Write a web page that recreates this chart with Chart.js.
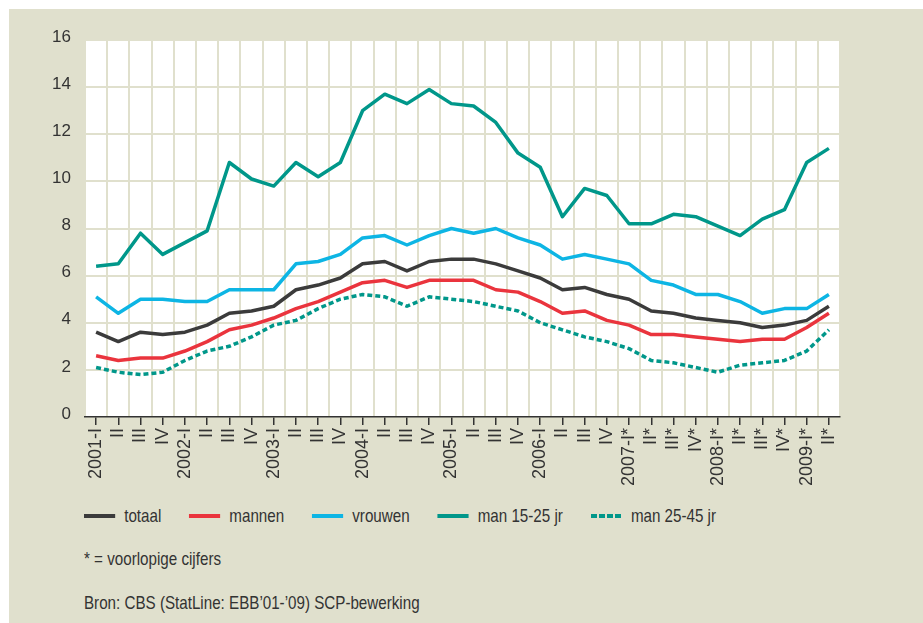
<!DOCTYPE html>
<html lang="nl">
<head>
<meta charset="utf-8">
<title>Werkloosheid per kwartaal, 2001-2009</title>
<script src="https://cdn.jsdelivr.net/npm/chart.js@4.4.1/dist/chart.umd.min.js"></script>
<style>
  html, body { margin: 0; padding: 0; background: #fff; }
  body {
    width: 923px; height: 623px; overflow: hidden; position: relative;
    font-family: "Liberation Sans", Arial, sans-serif;
    color: #333;
  }
  .panel { position: absolute; left: 9px; top: 9px; right: 0; bottom: 0; background: #e0e0cd; }
  .chart-wrap { position: absolute; left: 0; top: 0; width: 923px; height: 500px; }
  /* narrow type: regular face squeezed horizontally */
  .narrow { transform: scaleX(0.82); transform-origin: 0 50%; }
  .legend { position: absolute; left: 84px; top: 505px; display: flex; gap: 34px; font-size: 18.5px; line-height: 22px; }
  .legend-item { display: flex; align-items: center; }
  .legend-swatch { width: 38px; height: 4px; margin-right: 11px; }
  .note { position: absolute; left: 84px; font-size: 18.5px; line-height: 22px; white-space: nowrap; }
</style>
</head>
<body>
<div class="panel"></div>
<div class="chart-wrap"><canvas id="chart" width="923" height="500"></canvas></div>
<div class="legend narrow" id="legend"></div>
<div class="note narrow" style="top:548px">* = voorlopige cijfers</div>
<div class="note narrow" style="top:592px">Bron: CBS (StatLine: EBB’01-’09) SCP-bewerking</div>

<script>
/* ---- DATA ---- */
const quarters = [
  '2001-I', 'II', 'III', 'IV',
  '2002-I', 'II', 'III', 'IV',
  '2003-I', 'II', 'III', 'IV',
  '2004-I', 'II', 'III', 'IV',
  '2005-I', 'II', 'III', 'IV',
  '2006-I', 'II', 'III', 'IV',
  '2007-I*', 'II*', 'III*', 'IV*',
  '2008-I*', 'II*', 'III*', 'IV*',
  '2009-I*', 'II*'
];

const totaal  = [3.6, 3.2, 3.6, 3.5, 3.6, 3.9, 4.4, 4.5, 4.7, 5.4, 5.6, 5.9, 6.5, 6.6, 6.2, 6.6, 6.7,
                 6.7, 6.5, 6.2, 5.9, 5.4, 5.5, 5.2, 5.0, 4.5, 4.4, 4.2, 4.1, 4.0, 3.8, 3.9, 4.1, 4.7];
const mannen  = [2.6, 2.4, 2.5, 2.5, 2.8, 3.2, 3.7, 3.9, 4.2, 4.6, 4.9, 5.3, 5.7, 5.8, 5.5, 5.8, 5.8,
                 5.8, 5.4, 5.3, 4.9, 4.4, 4.5, 4.1, 3.9, 3.5, 3.5, 3.4, 3.3, 3.2, 3.3, 3.3, 3.8, 4.4];
const vrouwen = [5.1, 4.4, 5.0, 5.0, 4.9, 4.9, 5.4, 5.4, 5.4, 6.5, 6.6, 6.9, 7.6, 7.7, 7.3, 7.7, 8.0,
                 7.8, 8.0, 7.6, 7.3, 6.7, 6.9, 6.7, 6.5, 5.8, 5.6, 5.2, 5.2, 4.9, 4.4, 4.6, 4.6, 5.2];
const man1525 = [6.4, 6.5, 7.8, 6.9, 7.4, 7.9, 10.8, 10.1, 9.8, 10.8, 10.2, 10.8, 13.0, 13.7, 13.3, 13.9, 13.3,
                 13.2, 12.5, 11.2, 10.6, 8.5, 9.7, 9.4, 8.2, 8.2, 8.6, 8.5, 8.1, 7.7, 8.4, 8.8, 10.8, 11.4];
const man2545 = [2.1, 1.9, 1.8, 1.9, 2.4, 2.8, 3.0, 3.4, 3.9, 4.1, 4.6, 5.0, 5.2, 5.1, 4.7, 5.1, 5.0,
                 4.9, 4.7, 4.5, 4.0, 3.7, 3.4, 3.2, 2.9, 2.4, 2.3, 2.1, 1.9, 2.2, 2.3, 2.4, 2.8, 3.7];

const yTicks = [0, 2, 4, 6, 8, 10, 12, 14, 16];

/* ---- STYLE ---- */
const BEIGE = '#e0e0cd';
const INK   = '#333333';
const TEAL  = '#00978a';
const DOTS  = [5, 3];

const series = [
  { label: 'totaal',       data: totaal,  color: '#3b3b3b' },
  { label: 'mannen',       data: mannen,  color: '#ea343d' },
  { label: 'vrouwen',      data: vrouwen, color: '#0db5e4' },
  { label: 'man 15-25 jr', data: man1525, color: TEAL },
  { label: 'man 25-45 jr', data: man2545, color: TEAL, dash: DOTS }
];

// white plotting area on the beige panel
const plotBackground = {
  id: 'plotBackground',
  beforeDraw(chart) {
    const { ctx, chartArea: a } = chart;
    ctx.save();
    ctx.fillStyle = '#fff';
    ctx.fillRect(a.left, a.top, a.right - a.left, a.bottom - a.top);
    ctx.restore();
  }
};

Chart.defaults.font.family = '"Liberation Sans", Arial, sans-serif';
Chart.defaults.color = INK;

new Chart(document.getElementById('chart'), {
  type: 'line',
  data: {
    labels: quarters,
    datasets: series.map(s => ({
      label: s.label,
      data: s.data,
      borderColor: s.color,
      backgroundColor: s.color,
      borderWidth: 3.5,
      borderDash: s.dash || [],
      borderJoinStyle: 'round',
      pointRadius: 0,
      tension: 0,
      fill: false,
      xAxisID: 'x',
      yAxisID: 'y'
    }))
  },
  options: {
    responsive: false,
    animation: false,
    events: [],
    layout: { padding: { top: 40, right: 83, bottom: 0, left: 0 } },
    plugins: {
      legend: { display: false },
      tooltip: { enabled: false }
    },
    scales: {
      // labels + tick marks under the zero line
      x: {
        type: 'category',
        position: 'bottom',
        offset: true,
        border: { display: true, color: INK, width: 1.5 },
        grid: { offset: false, drawOnChartArea: false, drawTicks: true, tickLength: 8, color: INK, lineWidth: 1.5 },
        ticks: { autoSkip: false, minRotation: 90, maxRotation: 90, padding: 3, font: { size: 18 }, color: INK },
        afterFit: s => { s.height = 83; }
      },
      // vertical grid between the quarters
      xg: {
        type: 'category',
        position: 'top',
        offset: true,
        border: { display: false },
        grid: { offset: true, drawTicks: false, color: BEIGE, lineWidth: 2 },
        ticks: { display: false },
        afterFit: s => { s.height = 0; }
      },
      y: {
        min: 0,
        max: 16,
        border: { display: false },
        grid: {
          drawTicks: false,
          lineWidth: 2,
          color: ctx => ctx.tick && ctx.tick.value === 0 ? 'rgba(0,0,0,0)' : BEIGE
        },
        ticks: { padding: 14, labelOffset: -3, font: { size: 17 }, color: INK },
        afterBuildTicks: s => { s.ticks = yTicks.map(v => ({ value: v })); },
        afterFit: s => { s.width = 85; }
      }
    }
  },
  plugins: [plotBackground]
});

/* ---- LEGEND ---- */
const legend = document.getElementById('legend');
series.forEach(s => {
  const item = document.createElement('div');
  item.className = 'legend-item';
  const sw = document.createElement('span');
  sw.className = 'legend-swatch';
  sw.style.background = s.dash
    ? `repeating-linear-gradient(90deg, ${s.color} 0 7px, transparent 7px 10px)`
    : s.color;
  const txt = document.createElement('span');
  txt.textContent = s.label;
  item.append(sw, txt);
  legend.appendChild(item);
});
</script>
</body>
</html>
